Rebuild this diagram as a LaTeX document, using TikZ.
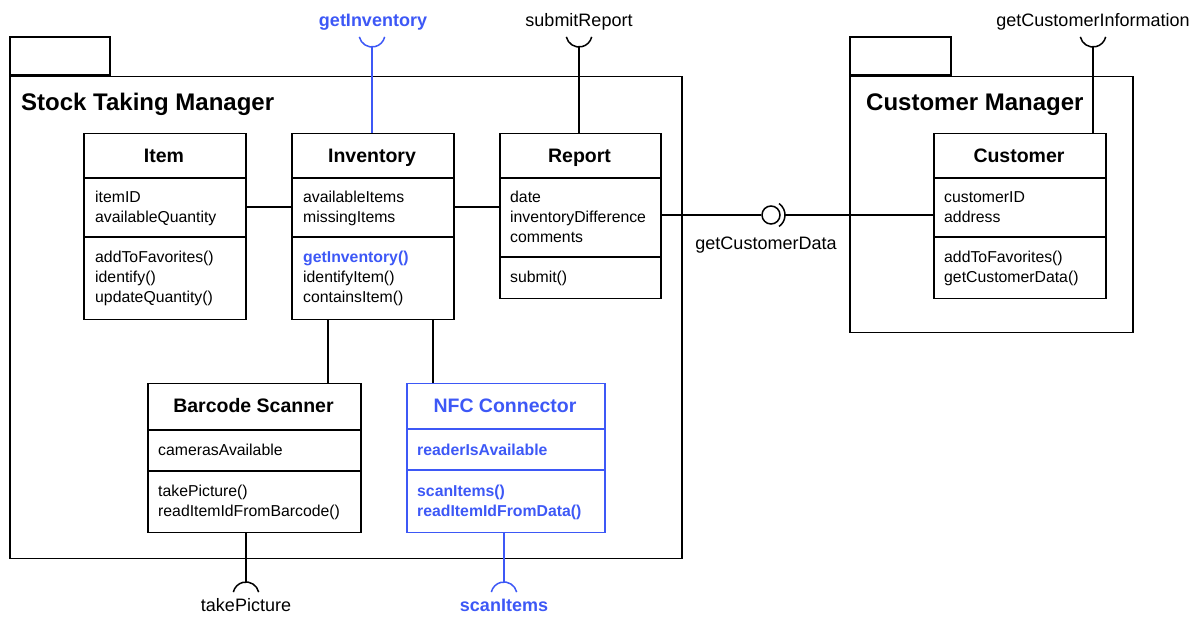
\documentclass[tikz,border=0pt]{standalone}
\usepackage{fontspec}
\setmainfont{Liberation Sans}
\definecolor{umlblue}{RGB}{61,88,246}
\begin{document}
\begin{tikzpicture}[x=1pt,y=1pt,
  lw/.style={line width=1.5pt},
  box/.style={draw,lw,inner sep=0pt,anchor=north west},
  pkg/.style={draw,lw,inner sep=0pt},
  ttl/.style={font=\fontsize{19.5}{22}\selectfont\bfseries,anchor=base,inner sep=0pt},
  txt/.style={font=\fontsize{15.8}{18}\selectfont,anchor=base west,inner sep=0pt},
  lbl/.style={font=\fontsize{18}{20}\selectfont,anchor=base,inner sep=0pt},
  pkgttl/.style={font=\fontsize{24}{26}\selectfont\bfseries,anchor=base west,inner sep=0pt},
  hl/.style={text=umlblue,font=\fontsize{15.8}{18}\selectfont\bfseries}
]
\useasboundingbox (0,0) rectangle (1199,617);

% ---------- packages ----------
\node[pkg,anchor=south west,minimum width=100pt,minimum height=38pt] (stkTab) at (9,541) {};
\node[pkg,anchor=north west,minimum width=672pt,minimum height=482pt] (stk) at (9,541) {};
\node[pkgttl] (stkTitle) at (21,506) {Stock Taking Manager};

\node[pkg,anchor=south west,minimum width=101pt,minimum height=38pt] (cusTab) at (849,541) {};
\node[pkg,anchor=north west,minimum width=283pt,minimum height=256pt] (cus) at (849,541) {};
\node[pkgttl] (cusTitle) at (866,506) {Customer Manager};

% ---------- Item ----------
\node[box,minimum width=162pt,minimum height=186pt] (item) at (83,484) {};
\draw[lw] (item.west |- 0,439) -- (item.east |- 0,439);
\draw[lw] (item.west |- 0,380) -- (item.east |- 0,380);
\node[ttl] (itemT) at (164,454) {Item};
\node[txt] (itemA1) at (95,414) {itemID};
\node[txt] (itemA2) at (95,394) {availableQuantity};
\node[txt] (itemO1) at (95,354) {addToFavorites()};
\node[txt] (itemO2) at (95,334) {identify()};
\node[txt] (itemO3) at (95,314) {updateQuantity()};

% ---------- Inventory ----------
\node[box,minimum width=162pt,minimum height=186pt] (inv) at (291,484) {};
\draw[lw] (inv.west |- 0,439) -- (inv.east |- 0,439);
\draw[lw] (inv.west |- 0,380) -- (inv.east |- 0,380);
\node[ttl] (invT) at (372,454) {Inventory};
\node[txt] (invA1) at (303,414) {availableItems};
\node[txt] (invA2) at (303,394) {missingItems};
\node[txt,hl] (invO1) at (303,354) {getInventory()};
\node[txt] (invO2) at (303,334) {identifyItem()};
\node[txt] (invO3) at (303,314) {containsItem()};

% ---------- Report ----------
\node[box,minimum width=161pt,minimum height=165pt] (rep) at (499,484) {};
\draw[lw] (rep.west |- 0,439) -- (rep.east |- 0,439);
\draw[lw] (rep.west |- 0,360) -- (rep.east |- 0,360);
\node[ttl] (repT) at (579.5,454) {Report};
\node[txt] (repA1) at (510,414) {date};
\node[txt] (repA2) at (510,394) {inventoryDifference};
\node[txt] (repA3) at (510,374) {comments};
\node[txt] (repO1) at (510,334) {submit()};

% ---------- Customer ----------
\node[box,minimum width=172pt,minimum height=165pt] (cust) at (933,484) {};
\draw[lw] (cust.west |- 0,439) -- (cust.east |- 0,439);
\draw[lw] (cust.west |- 0,380) -- (cust.east |- 0,380);
\node[ttl] (custT) at (1019,454) {Customer};
\node[txt] (custA1) at (944,414) {customerID};
\node[txt] (custA2) at (944,394) {address};
\node[txt] (custO1) at (944,354) {addToFavorites()};
\node[txt] (custO2) at (944,334) {getCustomerData()};

% ---------- Barcode Scanner ----------
\node[box,minimum width=213pt,minimum height=149pt] (bar) at (147,234) {};
\draw[lw] (bar.west |- 0,187) -- (bar.east |- 0,187);
\draw[lw] (bar.west |- 0,146) -- (bar.east |- 0,146);
\node[ttl] (barT) at (253.5,204) {Barcode Scanner};
\node[txt] (barA1) at (158,161) {camerasAvailable};
\node[txt] (barO1) at (158,120) {takePicture()};
\node[txt] (barO2) at (158,100) {readItemIdFromBarcode()};

% ---------- NFC Connector ----------
\node[box,draw=umlblue,minimum width=198pt,minimum height=149pt] (nfc) at (406,234) {};
\draw[lw,umlblue] (nfc.west |- 0,188) -- (nfc.east |- 0,188);
\draw[lw,umlblue] (nfc.west |- 0,147) -- (nfc.east |- 0,147);
\node[ttl,text=umlblue] (nfcT) at (505,204) {NFC Connector};
\node[txt,hl] (nfcA1) at (417,161) {readerIsAvailable};
\node[txt,hl] (nfcO1) at (417,120) {scanItems()};
\node[txt,hl] (nfcO2) at (417,100) {readItemIdFromData()};

% ---------- internal associations ----------
\coordinate (yA) at (0,410);
\draw[lw] (item.east |- yA) -- (inv.west |- yA);
\draw[lw] (inv.east |- yA) -- (rep.west |- yA);
\coordinate (xB) at (328,0);
\draw[lw] (inv.south -| xB) -- (bar.north -| xB);
\coordinate (xN) at (433,0);
\draw[lw] (inv.south -| xN) -- (nfc.north -| xN);

% ---------- provided interface getCustomerData ----------
\node[circle,draw,lw,minimum size=18pt,inner sep=0pt] (ball) at (771,402) {};
\draw[lw] ([shift={(55:14)}]ball.center) arc[start angle=55,end angle=-55,radius=14];
\coordinate (sockR) at (785,402);
\draw[lw] (rep.east |- ball.west) -- (ball.west);
\draw[lw] (sockR) -- (cust.west |- sockR);
\node[lbl] (gcd) at (766,367) {getCustomerData};

% ---------- required interfaces at the top ----------
\coordinate (sInv) at (372,570);
\draw[lw,umlblue] ([shift={(-167:13)}]372,583) arc[start angle=-167,end angle=-13,radius=13];
\draw[lw,umlblue] (inv.north -| sInv) -- (sInv);
\node[lbl,text=umlblue,font=\fontsize{18}{20}\selectfont\bfseries] (lInv) at (373,590) {getInventory};

\coordinate (sRep) at (579,570);
\draw[lw] ([shift={(-167:13)}]579,583) arc[start angle=-167,end angle=-13,radius=13];
\draw[lw] (rep.north -| sRep) -- (sRep);
\node[lbl] (lRep) at (579,590) {submitReport};

\coordinate (sCus) at (1093,570);
\draw[lw] ([shift={(-167:13)}]1093,583) arc[start angle=-167,end angle=-13,radius=13];
\draw[lw] (cust.north -| sCus) -- (sCus);
\node[lbl] (lCus) at (1093,590) {getCustomerInformation};

% ---------- required interfaces at the bottom ----------
\coordinate (sBar) at (246,35);
\draw[lw] ([shift={(13:13)}]246,22) arc[start angle=13,end angle=167,radius=13];
\draw[lw] (bar.south -| sBar) -- (sBar);
\node[lbl] (lBar) at (246,5) {takePicture};

\coordinate (sNfc) at (504,35);
\draw[lw,umlblue] ([shift={(13:13)}]504,22) arc[start angle=13,end angle=167,radius=13];
\draw[lw,umlblue] (nfc.south -| sNfc) -- (sNfc);
\node[lbl,text=umlblue,font=\fontsize{18}{20}\selectfont\bfseries] (lNfc) at (504,5) {scanItems};
\end{tikzpicture}
\end{document}
